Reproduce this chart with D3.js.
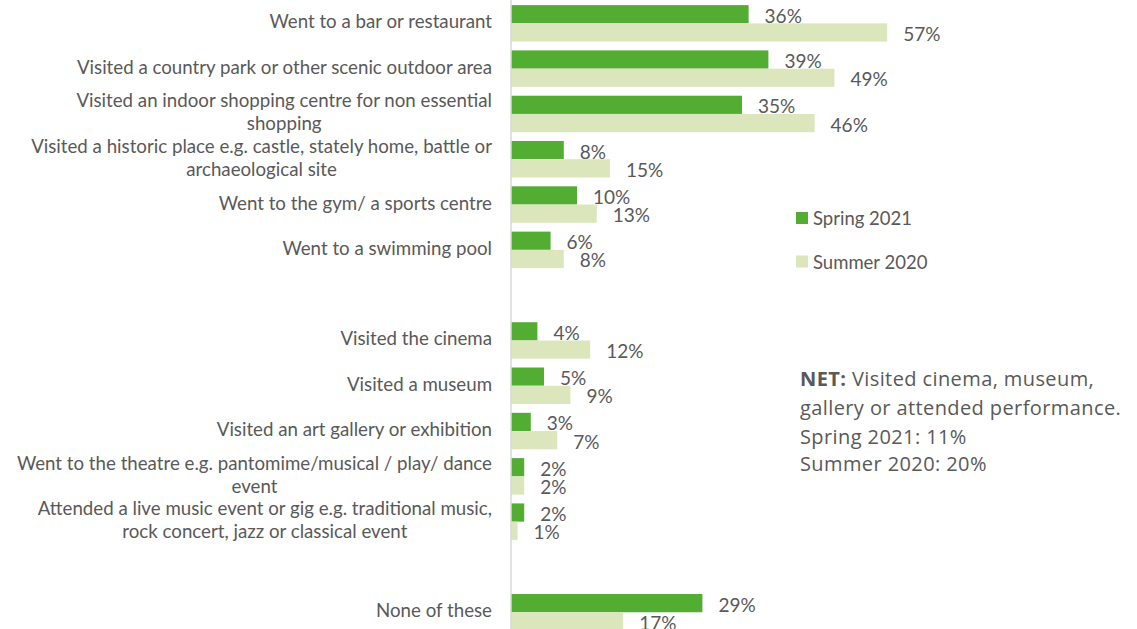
<!DOCTYPE html>
<html>
<head>
<meta charset="utf-8">
<script src="https://cdn.jsdelivr.net/npm/d3@7"></script>
<style>
  html, body { margin: 0; padding: 0; background: #ffffff; }
  svg { display: block; }
  text { font-family: Lato, "Open Sans", sans-serif; fill: #595959; }
</style>
</head>
<body>
<svg id="chart" width="1137" height="629"></svg>
<script>
// Activities done in the period, share of respondents (%)
const categories = [
  "Went to a bar or restaurant",
  "Visited a country park or other scenic outdoor area",
  "Visited an indoor shopping centre for non essential\nshopping",
  "Visited a historic place e.g. castle, stately home, battle or\narchaeological site",
  "Went to the gym/ a sports centre",
  "Went to a swimming pool",
  "Visited the cinema",
  "Visited a museum",
  "Visited an art gallery or exhibition",
  "Went to the theatre e.g. pantomime/musical / play/ dance\nevent",
  "Attended a live music event or gig e.g. traditional music,\nrock concert, jazz or classical event",
  "None of these"
];
const spring2021 = [36, 39, 35, 8, 10, 6, 4, 5, 3, 2, 2, 29];
const summer2020 = [57, 49, 46, 15, 13, 8, 12, 9, 7, 2, 1, 17];
const seriesNames = ["Spring 2021", "Summer 2020"];
const seriesColors = ["#53ad33", "#dce6bd"];

// Blank rows are left before these category positions
const gapsBefore = [6, 11];

const netTitle = "NET:";
const netLines = [
  " Visited cinema, museum,",
  "gallery or attended performance.",
  "Spring 2021: 11%",
  "Summer 2020: 20%"
];

const svg = d3.select("#chart");

// Row slots: categories plus empty spacer rows
const slots = [];
categories.forEach((c, i) => {
  if (gapsBefore.includes(i)) slots.push("gap-" + i);
  slots.push(c);
});

const y = d3.scaleBand()
  .domain(slots)
  .range([0.7, 634.9])
  .paddingInner(0.195)
  .paddingOuter(0.0975);

const ySeries = d3.scaleBand()
  .domain(seriesNames)
  .range([0, y.bandwidth()]);

const x = d3.scaleLinear().domain([0, 60]).range([511, 907]);

const rows = categories.map((c, i) => ({
  cat: c,
  values: [
    { series: seriesNames[0], v: spring2021[i] },
    { series: seriesNames[1], v: summer2020[i] }
  ]
}));

const color = d3.scaleOrdinal().domain(seriesNames).range(seriesColors);

// Bars
const groups = svg.append("g").selectAll("g.row")
  .data(rows)
  .join("g")
  .attr("class", "row")
  .attr("transform", d => `translate(0,${y(d.cat)})`);

groups.selectAll("rect")
  .data(d => d.values)
  .join("rect")
  .attr("x", x(0))
  .attr("y", d => ySeries(d.series))
  .attr("width", d => x(d.v) - x(0))
  .attr("height", ySeries.bandwidth())
  .attr("fill", d => color(d.series));

// Value labels
groups.selectAll("text.val")
  .data(d => d.values)
  .join("text")
  .attr("class", "val")
  .attr("x", d => x(d.v) + 16)
  .attr("y", d => ySeries(d.series) + ySeries.bandwidth() / 2 + 8.5)
  .attr("font-size", 19)
  .text(d => d.v + "%");

// Vertical axis line
svg.append("line")
  .attr("x1", x(0)).attr("x2", x(0))
  .attr("y1", 0).attr("y2", 629)
  .attr("stroke", "#d9d9d9")
  .attr("stroke-width", 1.5);

// Category labels, right-aligned block, wrapped lines centred in the block
const labelRight = 492;
const lineH = 23;
rows.forEach(r => {
  const lines = r.cat.split("\n");
  const cy = y(r.cat) + y.bandwidth() / 2;
  const g = svg.append("g");
  const texts = lines.map((ln, k) => g.append("text")
    .attr("font-size", 18.7)
    .attr("y", cy + 5 + (k - (lines.length - 1) / 2) * lineH)
    .text(ln));
  const maxW = d3.max(texts, t => t.node().getComputedTextLength());
  texts.forEach(t => t.attr("text-anchor", "middle").attr("x", labelRight - maxW / 2));
});

// Legend
const legend = svg.append("g").selectAll("g")
  .data(seriesNames)
  .join("g")
  .attr("transform", (d, i) => `translate(796,${212 + i * 43.5})`);
legend.append("rect")
  .attr("width", 12).attr("height", 12)
  .attr("fill", d => color(d));
legend.append("text")
  .attr("x", 17).attr("y", 13)
  .attr("font-size", 18.5)
  .text(d => d);

// NET note
const netBase = [386, 415, 444, 471];
const note = svg.append("g").attr("class", "note");
netLines.forEach((ln, i) => {
  const t = note.append("text")
    .attr("x", 800).attr("y", netBase[i])
    .attr("font-size", 20)
    .attr("letter-spacing", 0.4)
    .style("font-family", "'Open Sans', sans-serif");
  if (i === 0) {
    t.append("tspan").attr("font-weight", "bold").text(netTitle);
  }
  t.append("tspan").text(ln);
});
</script>
</body>
</html>
